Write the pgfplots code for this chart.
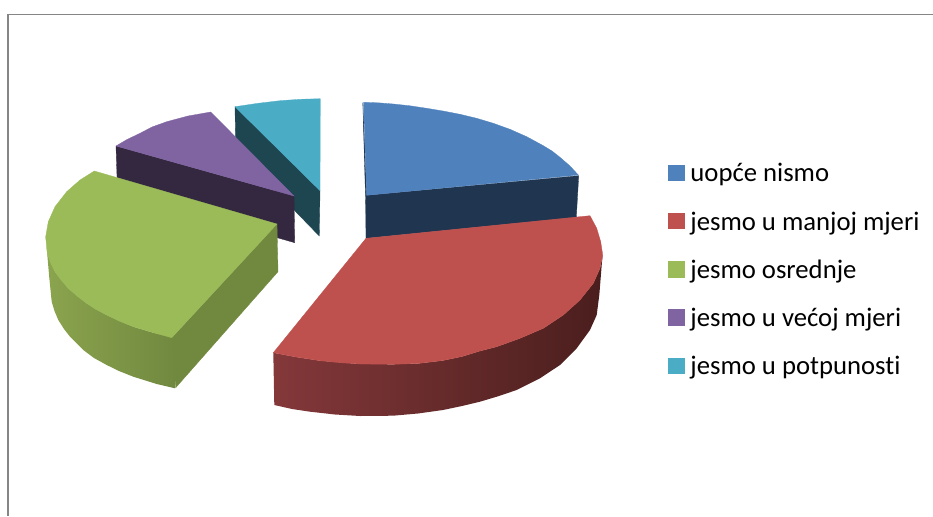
\documentclass[border=0pt]{standalone}
\usepackage{pgfplots}
\pgfplotsset{compat=1.18}
\usepackage{fontspec}
\setmainfont{Carlito}[Ligatures=NoCommon]

\definecolor{cblue}{HTML}{4F81BD}
\definecolor{cred}{HTML}{BE504D}
\definecolor{cgreen}{HTML}{9BBB59}
\definecolor{cpurple}{HTML}{8064A2}
\definecolor{cteal}{HTML}{4BACC6}
\definecolor{sblue}{HTML}{1F3550}
\definecolor{sgreen}{HTML}{71893F}
\definecolor{spurple}{HTML}{33283F}
\definecolor{steal}{HTML}{1E4651}
\definecolor{frame}{HTML}{868686}
\definecolor{gleft}{HTML}{8BA44E}
\definecolor{rleft}{HTML}{84383A}
\definecolor{rmid}{HTML}{5A2524}
\definecolor{rright}{HTML}{4A1E1D}

\begin{document}
\begin{tikzpicture}
	\path[use as bounding box] (0,0) rectangle (933pt,516pt);
	\begin{axis}[
	at={(0,0)},
	anchor=south west,
	scale only axis,
	width=933pt,
	height=516pt,
	xmin=0, xmax=933,
	ymin=0, ymax=516,
	y dir=reverse,
	hide axis,
	clip=true,
	legend cell align=left,
	legend image code/.code={
		\fill[#1] (0pt,-4.8pt) rectangle (15.3pt,10.5pt);
		\path[draw=none, fill=none, line width=0pt] (0pt,0pt) rectangle (22pt,0.1pt);
	},
	legend style={
		at={(axis cs:668,163.7)},
		anchor=north west,
		draw=none,
		fill=none,
		inner sep=0pt,
		row sep=25.25pt,
		font=\fontsize{26.7}{30}\selectfont,
		nodes={inner sep=0pt, text height=18pt, text depth=5pt},
	},
	every axis plot/.append style={forget plot},
	]

	% frame
	\addplot[frame, line width=1.5pt] coordinates {(7,14.6)(933,14.6)};
	\addplot[frame, line width=2.3pt] coordinates {(7.8,14)(7.8,516)};

	% blue slice
	\addplot[sblue, fill=sblue, line width=0.3pt] coordinates {
		(362.8,102.7)(366.7,195.3)(578.7,175.7)(576.3,217.3)(366,238.3)(365.6,200)
	} -- cycle;
	\addplot[cblue, fill=cblue, line width=0.3pt] coordinates {
		(363.5,102.3)(378,102.8)(393.3,104)(410,105.8)(426.7,108.3)(443,111)(460,114.3)
		(476.7,118.3)(493.3,123.3)(510,129.3)(526.7,136.7)(543.3,145.7)(552,151)(560,157.3)(570,166)(578.3,175)
		(366.7,195.3)
	} -- cycle;

	% teal slice
	\addplot[steal, fill=steal, line width=0.3pt] coordinates {
		(235,106.7)(320,190.7)(319.3,236)(235.7,150)
	} -- cycle;
	\addplot[cteal, fill=cteal, line width=0.3pt] coordinates {
		(320.3,98.7)(300,99.3)(280,100.7)(258,103.3)(235,106.7)(320,190.7)
	} -- cycle;

	% purple slice
	\addplot[spurple, fill=spurple, line width=0.3pt] coordinates {
		(116,146)(294,196)(294.7,242.7)(117.5,192)
	} -- cycle;
	\addplot[cpurple, fill=cpurple, line width=0.3pt] coordinates {
		(210.7,112)(188,116)(166.7,121.7)(152,127)(140,133.3)(127,139.5)(116,146)(294,196)
	} -- cycle;

	% green slice
	\addplot[draw=none, left color=gleft, right color=sgreen] coordinates {
		(45.7,236.7)(46.7,248)(49.3,278)(51.7,301.7)(54.5,311)(58.3,320)(64,329)(70,336.7)(83.3,350)(94,358)(106.7,365)
		(119,371)(133.3,376.7)(156.7,384)(175,388.3)(175,337.3)(153.3,332.7)(133.3,326.7)(106.7,315)(86.7,303.3)(68.3,288.3)(55,271.7)(47.3,253.3)
	} -- cycle;
	\addplot[sgreen, fill=sgreen, line width=0.3pt] coordinates {
		(172,337.5)(277,224)(278,271.7)(175.7,387.7)
	} -- cycle;
	\addplot[cgreen, fill=cgreen, line width=0.3pt] coordinates {
		(94.3,171)(80,180)(66.7,191.7)(55,206.7)(48.3,221.7)(45.7,236.7)(47.3,253.3)(50.5,262.5)(55,271.7)(61,280)(68.3,288.3)(77,296)
		(86.7,303.3)(96,309.5)(106.7,315)(119,321)(133.3,326.7)(153.3,332.7)(171.7,337.7)(277,224)
	} -- cycle;

	% red slice
	\addplot[draw=none, left color=rleft, middle color=rmid, right color=rright] coordinates {
		(273.3,352.7)(274.3,405)(292,409)(310,411.7)(335,414.5)(360,416)(393,415.7)(418,413.5)(443,410)(462,406)
		(480,401.7)(496.7,396.7)(516.7,390)(540,378.3)(560,365)(576.7,348.3)(590,330)(596.7,315)(599.3,295)(601.7,265)
		(602.7,255)(600,268.3)(593.3,283.3)(580,300)(563.3,315)(543.3,328.3)(520,338.3)(496.7,346.7)(480,351)(462,356.5)
		(443,360.5)(418,363.5)(393,364.3)(360,364)(320,360.7)(296,357)
	} -- cycle;
	\addplot[cred, fill=cred, line width=0.3pt] coordinates {
		(366,238.3)(590,215.7)(596.7,228.3)(600.7,241.7)(602.7,255)(600,268.3)(593.3,283.3)(580,300)(563.3,315)
		(543.3,328.3)(520,338.3)(496.7,346.7)(480,351)(462,356.5)(443,360.5)(418,363.5)(393,364.3)(360,364)(340,362.7)(320,360.7)(296,357)(273.3,352.7)
	} -- cycle;

	% legend
	\addlegendimage{cblue}
	\addlegendentry{uopće nismo}
	\addlegendimage{cred}
	\addlegendentry{jesmo u manjoj mjeri}
	\addlegendimage{cgreen}
	\addlegendentry{jesmo osrednje}
	\addlegendimage{cpurple}
	\addlegendentry{jesmo u većoj mjeri}
	\addlegendimage{cteal}
	\addlegendentry{jesmo u potpunosti}
	\end{axis}
\end{tikzpicture}
\end{document}
